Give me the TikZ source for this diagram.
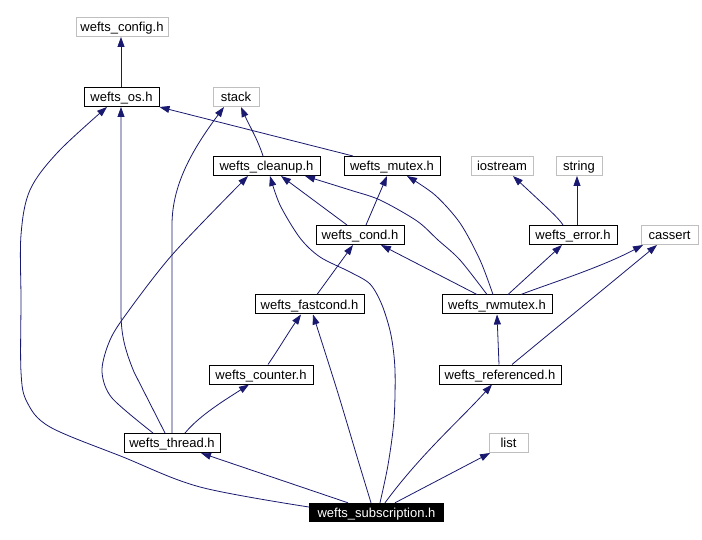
\documentclass[tikz,border=0pt]{standalone}
\usepackage{fontspec}
\setmainfont{Liberation Sans}
\usetikzlibrary{arrows.meta}
\definecolor{edgeblue}{HTML}{191970}
\definecolor{boxgray}{HTML}{BFBFBF}
\begin{document}
\begin{tikzpicture}[x=1pt,y=-1pt,
  every node/.style={font=\fontsize{13}{15}\selectfont, inner sep=0pt, minimum height=19pt, text height=10.5pt, text depth=1.5pt, rectangle},
  file/.style={draw=black, line width=1pt},
  sysfile/.style={draw=boxgray, line width=1pt},
  mainfile/.style={fill=black, text=white},
  edge/.style={draw=edgeblue, line width=0.8pt, -{Triangle[length=10pt,width=7pt]}}]
\fill[white] (0,0) rectangle (702,540);
\useasboundingbox (0,0) rectangle (702,540);
% nodes
\node[sysfile, minimum width=92pt]  (config)  at (122,27)    {wefts\_config.h};
\node[file,    minimum width=75pt]  (os)      at (121.5,97)  {wefts\_os.h};
\node[sysfile, minimum width=46pt]  (stack)   at (236,97)    {stack};
\node[file,    minimum width=107pt] (cleanup) at (266.5,166) {wefts\_cleanup.h};
\node[file,    minimum width=96pt]  (mutex)   at (392,166)   {wefts\_mutex.h};
\node[sysfile, minimum width=62pt]  (iostream) at (502,166)  {iostream};
\node[sysfile, minimum width=46pt]  (string)  at (579,166)   {string};
\node[file,    minimum width=88pt]  (cond)    at (360,235)   {wefts\_cond.h};
\node[file,    minimum width=88pt]  (error)   at (573,235)   {wefts\_error.h};
\node[sysfile, minimum width=57pt]  (cassert) at (669.5,235) {cassert};
\node[file,    minimum width=109pt] (fastcond) at (309.5,304.5) {wefts\_fastcond.h};
\node[file,    minimum width=110pt] (rwmutex) at (497,304.5) {wefts\_rwmutex.h};
\node[file,    minimum width=104pt] (counter) at (261,374.5) {wefts\_counter.h};
\node[file,    minimum width=122pt] (referenced) at (500,374.5) {wefts\_referenced.h};
\node[file,    minimum width=96pt]  (thread)  at (172,443)   {wefts\_thread.h};
\node[sysfile, minimum width=39pt]  (list)    at (508.5,443) {list};
\node[mainfile, minimum width=135pt] (sub)    at (376.5,512.5) {wefts\_subscription.h};
% edges
\draw[edge] (os.north -| 121,0) -- (config.south -| 121,0);
\draw[edge] (mutex.north -| 353,0) -- (os.south east);
\draw[edge] (thread.north -| 165,0) -- (134,372) .. controls (125,350) and (121,335) .. (121,312) -- (os.south -| 121,0);
\draw[edge] (thread.north -| 172,0) -- (172,225) .. controls (172,185) and (192,150) .. (stack.south -| 224,0);
\draw[edge] plot[smooth, tension=0.55] coordinates {(sub.west |- 0,507) (200,487) (123,457) (50,427) (27,402) (21,372) (21,300) (21,235) (30,190) (58,152) (os.south -| 107,0)};
\draw[edge] (cleanup.north -| 263,0) .. controls (258,140) and (249,125) .. (stack.south -| 241,0);
\draw[edge] (cond.north -| 347,0) -- (cleanup.south -| 281,0);
\draw[edge] plot[smooth] coordinates {(rwmutex.north -| 487,0) (460,260) (438,240) (417,221) (380,200) (350,190) (cleanup.south -| 305,0)};
\draw[edge] (cond.north -| 366,0) -- (mutex.south -| 387,0);
\draw[edge] plot[smooth] coordinates {(rwmutex.north -| 493,0) (480,260) (460,223) (435,195) (mutex.south -| 407,0)};
\draw[edge] (error.north -| 563,0) .. controls (559,219) and (555,215) .. (iostream.south -| 513,0);
\draw[edge] (error.north -| 577,0) -- (string.south -| 577,0);
\draw[edge] (rwmutex.north -| 477,0) -- (cond.south -| 381,0);
\draw[edge] (fastcond.north -| 317,0) -- (cond.south -| 353,0);
\draw[edge] (rwmutex.north -| 508,0) -- (error.south -| 562,0);
\draw[edge] (rwmutex.north -| 521,0) .. controls (545,285) and (600,268) .. (cassert.south -| 643,0);
\draw[edge] (referenced.north -| 512,0) -- (cassert.south -| 657,0);
\draw[edge] (referenced.north -| 499,0) -- (rwmutex.south -| 497,0);
\draw[edge] (counter.north -| 268,0) .. controls (278,350) and (290,330) .. (fastcond.south -| 301,0);
\draw[edge] plot[smooth] coordinates {(sub.north -| 371,0) (358,460) (337,390) (fastcond.south -| 313,0)};
\draw[edge] plot[smooth] coordinates {(sub.north -| 380,0) (388,465) (394,420) (395,370) (391,335) (382,305) (370,284) (350,272) (320,257) (300,238) (280,205) (cleanup.south -| 270,0)};
\draw[edge] (sub.north -| 348,0) -- (thread.south east -| 201,0);
\draw[edge] (sub.north -| 385,0) .. controls (420,455) and (460,420) .. (referenced.south -| 492,0);
\draw[edge] (sub.north -| 395,0) -- (list.south -| 490,0);
\draw[edge] (thread.north -| 185,0) .. controls (200,415) and (225,400) .. (counter.south -| 249,0);
\draw[edge] plot[smooth] coordinates {(thread.north -| 153,0) (112,398) (102,372) (108,345) (122,320) (172,255) (cleanup.south -| 248,0)};
\end{tikzpicture}
\end{document}
